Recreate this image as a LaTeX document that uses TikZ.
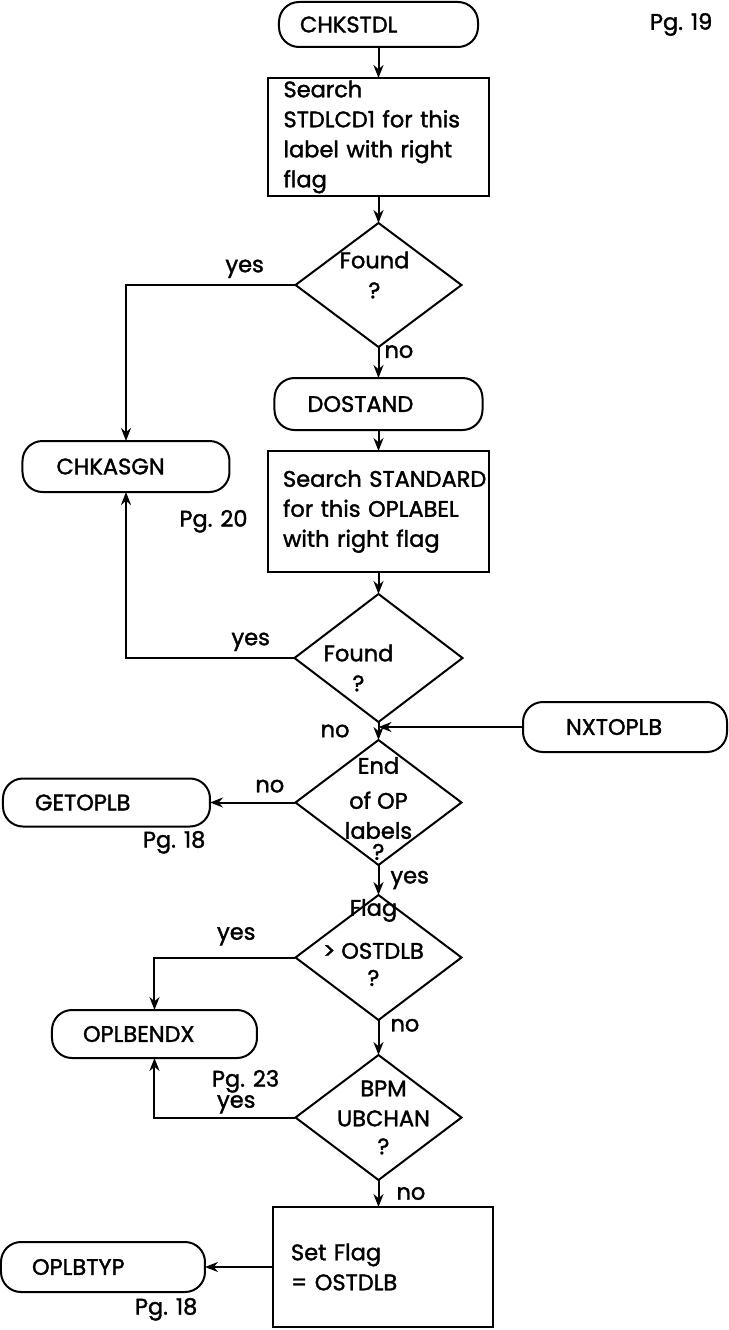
\documentclass[tikz,border=0pt]{standalone}
\usepackage{fontspec}
\setmainfont{Poppins}[RawFeature={embolden=1.6}]
\usetikzlibrary{arrows.meta,positioning,shapes.geometric}
\hyphenpenalty=10000
\exhyphenpenalty=10000

\begin{document}
\begin{tikzpicture}[
    font=\fontsize{22.5}{30}\selectfont,
    line width=2pt,
    every node/.style={outer sep=0pt},
    term/.style={draw, rounded corners=20pt, text width=142pt, inner xsep=32pt, inner ysep=0pt, minimum height=49pt, align=left},
    procbox/.style={draw, text width=190pt, inner xsep=15pt, inner ysep=2pt, align=left},
    decision/.style={draw, diamond, minimum width=166pt, minimum height=125pt, inner sep=0pt},
    dtext/.style={align=center, inner sep=0pt},
    lbl/.style={inner sep=3pt},
    pg/.style={inner sep=0pt},
    arrow/.style={-{Stealth[length=13pt, width=10pt]}},
]
\useasboundingbox (-378.5pt,24.5pt) rectangle (349.5pt,-1305.5pt);

% Main column
\node[term, text width=157pt, inner xsep=21pt, minimum height=45pt] (chkstdl) {CHKSTDL};
\node[procbox, minimum height=118pt, below=31pt of chkstdl] (search1) {Search\\STDLCD1~for~this\\label~with~right\\flag};
\node[decision, minimum height=124pt, below=27pt of search1,
    label={[dtext, xshift=-4pt, yshift=10pt]center:{Found\\?}}] (found1) {};
\node[term, text width=142pt, inner xsep=33pt, minimum height=52pt, below=31pt of found1] (dostand) {DOSTAND};
\node[procbox, text width=191pt, minimum height=121pt, below=21pt of dostand] (search2) {Search~STANDARD\\for~this~OPLABEL\\with~right~flag};
\node[decision, minimum width=168pt, minimum height=128pt, below=22pt of search2,
    label={[dtext, xshift=-20pt, yshift=-10pt]center:{Found\\?}}] (found2) {};
\node[decision, below=18pt of found2,
    label={[dtext, yshift=-6pt]center:{End\\[5pt]of OP\\labels\\[-9pt]?}}] (endop) {};
\node[decision, below=30pt of endop,
    label={[dtext, xshift=-5pt, yshift=15pt]center:{Flag\\[13pt]> OSTDLB\\[-3pt]?}}] (flag) {};
\node[decision, below=35pt of flag,
    label={[dtext, xshift=5pt]center:{BPM\\UBCHAN\\[-2pt]?}}] (bpm) {};
\node[procbox, text width=184pt, inner xsep=18pt, minimum height=120pt, below=27pt of bpm, xshift=4.5pt] (setflag) {Set~Flag\\=~OSTDLB};

% Side exits
\node[term, text width=139pt, inner xsep=34pt, minimum height=51pt, left=38.5pt of search2, yshift=45pt] (chkasgn) {CHKASGN};
\node[term, text width=143pt, minimum height=48pt, left=85.5pt of endop] (getoplb) {GETOPLB};
\node[term, text width=118pt, inner xsep=43pt, minimum height=50pt, right=61.5pt of endop, yshift=75.5pt] (nxtoplb) {NXTOPLB};
\node[term, text width=143pt, inner xsep=31pt, minimum height=48pt, left=38.5pt of bpm, yshift=83.5pt] (oplbendx) {OPLBENDX};
\node[term, text width=142pt, inner xsep=31pt, minimum height=50pt, left=68pt of setflag] (oplbtyp) {OPLBTYP};

% Page references
\node[pg, right=172pt of chkstdl] (pg19) {Pg. 19};
\node[pg, anchor=north west] (pg20) at ([shift={(-50pt,-18pt)}]chkasgn.south east) {Pg. 20};
\node[pg, anchor=north west] (pg18a) at ([shift={(-67pt,-4.5pt)}]getoplb.south east) {Pg. 18};
\node[pg, anchor=north west] (pg23) at ([shift={(-45pt,-12pt)}]oplbendx.south east) {Pg. 23};
\node[pg, anchor=north west] (pg18b) at ([shift={(-70pt,-6pt)}]oplbtyp.south east) {Pg. 18};

% Connectors
\draw[arrow] (chkstdl) -- (search1);
\draw[arrow] (search1) -- (found1);
\draw[arrow] (found1) -- (dostand) node[pos=0.15, right=3pt, lbl] {no};
\draw[arrow] (found1.west) -| (chkasgn.north) node[pos=0.15, above=4pt, lbl] {yes};
\draw[arrow] (dostand) -- (search2);
\draw[arrow] (search2) -- (found2);
\draw[arrow] (found2.west) -| (chkasgn.south) node[pos=0.13, above=4pt, lbl] {yes};
\draw[arrow] (found2) -- (endop) node[midway, left=26pt, lbl] {no};
\draw[arrow] (nxtoplb.west) -- (nxtoplb.west -| endop.north);
\draw[arrow] (endop) -- (getoplb) node[pos=0.3, above=7pt, lbl] {no};
\draw[arrow] (endop) -- (flag) node[midway, right=9pt, lbl] {yes};
\draw[arrow] (flag.west) -| (oplbendx.north) node[pos=0.21, above=9pt, lbl] {yes};
\draw[arrow] (flag) -- (bpm) node[pos=0.15, right=9pt, lbl] {no};
\draw[arrow] (bpm.west) -| (oplbendx.south) node[pos=0.21, above=1pt, lbl] {yes};
\draw[arrow] (bpm.south) -- (bpm.south |- setflag.north) node[midway, right=15pt, lbl] {no};
\draw[arrow] (setflag) -- (oplbtyp);

\end{tikzpicture}
\end{document}
